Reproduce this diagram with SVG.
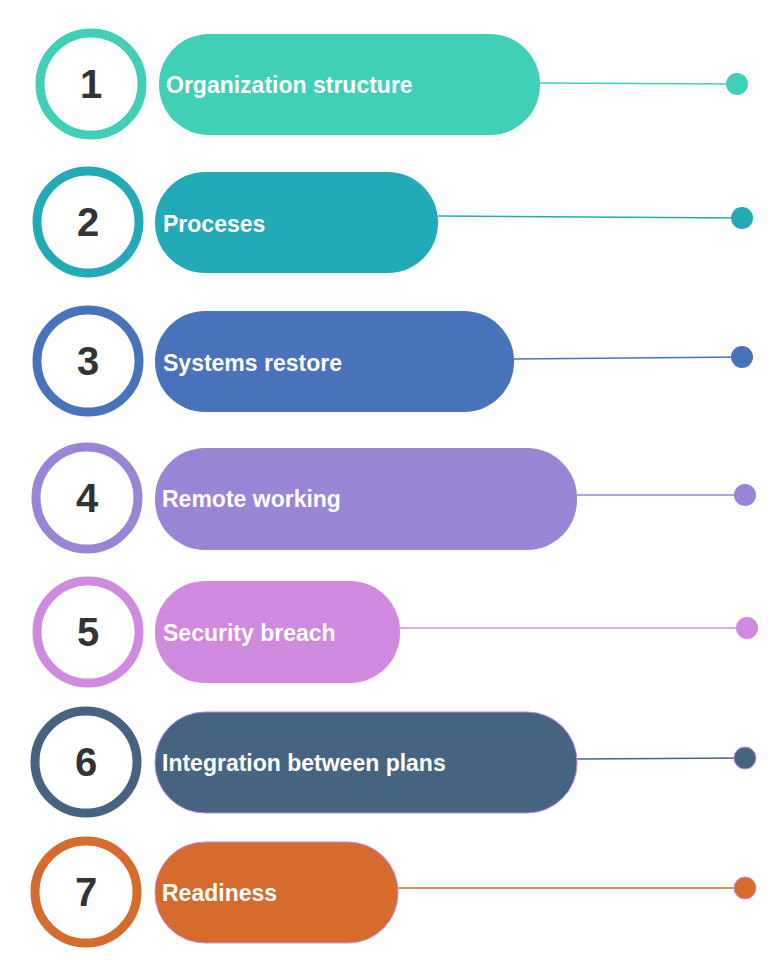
<svg xmlns="http://www.w3.org/2000/svg" width="768" height="960" viewBox="0 0 768 960">
<style>
.ring{fill:#fff;stroke-width:9}
.num{font-family:"Liberation Sans",Arial,sans-serif;font-weight:bold;font-size:40px;fill:#333;text-anchor:middle}
.lbl{font-family:"Liberation Sans",Arial,sans-serif;font-weight:bold;font-size:23px;fill:#fff}
.ln{stroke-width:1.5;fill:none}
</style>
<rect width="768" height="960" fill="#fff"/>
<g id="connectors">
<line class="ln" x1="540" y1="83" x2="737" y2="84" stroke="#42CFB8"/>
<line class="ln" x1="438" y1="216" x2="742" y2="218" stroke="#22ABB7"/>
<line class="ln" x1="514" y1="359" x2="742" y2="357" stroke="#4873BA"/>
<line class="ln" x1="577" y1="495" x2="745" y2="495" stroke="#9A84D5"/>
<line class="ln" x1="400" y1="628" x2="747" y2="628" stroke="#D08AE0"/>
<line class="ln" x1="577" y1="759" x2="745" y2="758" stroke="#466482"/>
<line class="ln" x1="398" y1="888" x2="745" y2="888" stroke="#D56B2D"/>
</g>
<g id="node1"><circle class="ring" cx="91" cy="84" r="51" stroke="#42CFB8"/><text class="num" x="91" y="98">1</text><rect x="159" y="34" width="381" height="101" rx="50" fill="#42CFB8"/><text class="lbl" x="166" y="93">Organization structure</text><circle cx="737" cy="84" r="11" fill="#42CFB8"/></g>
<g id="node2"><circle class="ring" cx="88" cy="222" r="51" stroke="#22ABB7"/><text class="num" x="88" y="236">2</text><rect x="155" y="172" width="283" height="101" rx="50" fill="#22ABB7"/><text class="lbl" x="163" y="232">Proceses</text><circle cx="742" cy="218" r="11" fill="#22ABB7"/></g>
<g id="node3"><circle class="ring" cx="88" cy="361" r="51" stroke="#4873BA"/><text class="num" x="88" y="375">3</text><rect x="155" y="311" width="359" height="101" rx="50" fill="#4873BA"/><text class="lbl" x="163" y="371">Systems restore</text><circle cx="742" cy="357" r="11" fill="#4873BA"/></g>
<g id="node4"><circle class="ring" cx="87" cy="498" r="51" stroke="#9A84D5"/><text class="num" x="87" y="512">4</text><rect x="155" y="448" width="422" height="102" rx="50" fill="#9A84D5"/><text class="lbl" x="162" y="507">Remote working</text><circle cx="745" cy="495" r="11" fill="#9A84D5"/></g>
<g id="node5"><circle class="ring" cx="88" cy="632" r="51" stroke="#D08AE0"/><text class="num" x="88" y="646">5</text><rect x="155" y="581" width="245" height="102" rx="50" fill="#D08AE0"/><text class="lbl" x="163" y="641">Security breach</text><circle cx="747" cy="628" r="11" fill="#D08AE0"/></g>
<g id="node6"><circle class="ring" cx="86" cy="762" r="51" stroke="#466482"/><text class="num" x="86" y="776">6</text><rect x="155" y="712" width="422" height="101" rx="50" fill="#466482" stroke="#B98AE0" stroke-width="1"/><text class="lbl" x="162" y="771">Integration between plans</text><circle cx="745" cy="758" r="11" fill="#466482" stroke="#B98AE0" stroke-width="1"/></g>
<g id="node7"><circle class="ring" cx="86" cy="892" r="51" stroke="#D56B2D"/><text class="num" x="86" y="906">7</text><rect x="155" y="842" width="243" height="101" rx="50" fill="#D56B2D" stroke="#C98AE0" stroke-width="1"/><text class="lbl" x="162" y="901">Readiness</text><circle cx="745" cy="888" r="11" fill="#D56B2D" stroke="#C98AE0" stroke-width="1"/></g>
</svg>
